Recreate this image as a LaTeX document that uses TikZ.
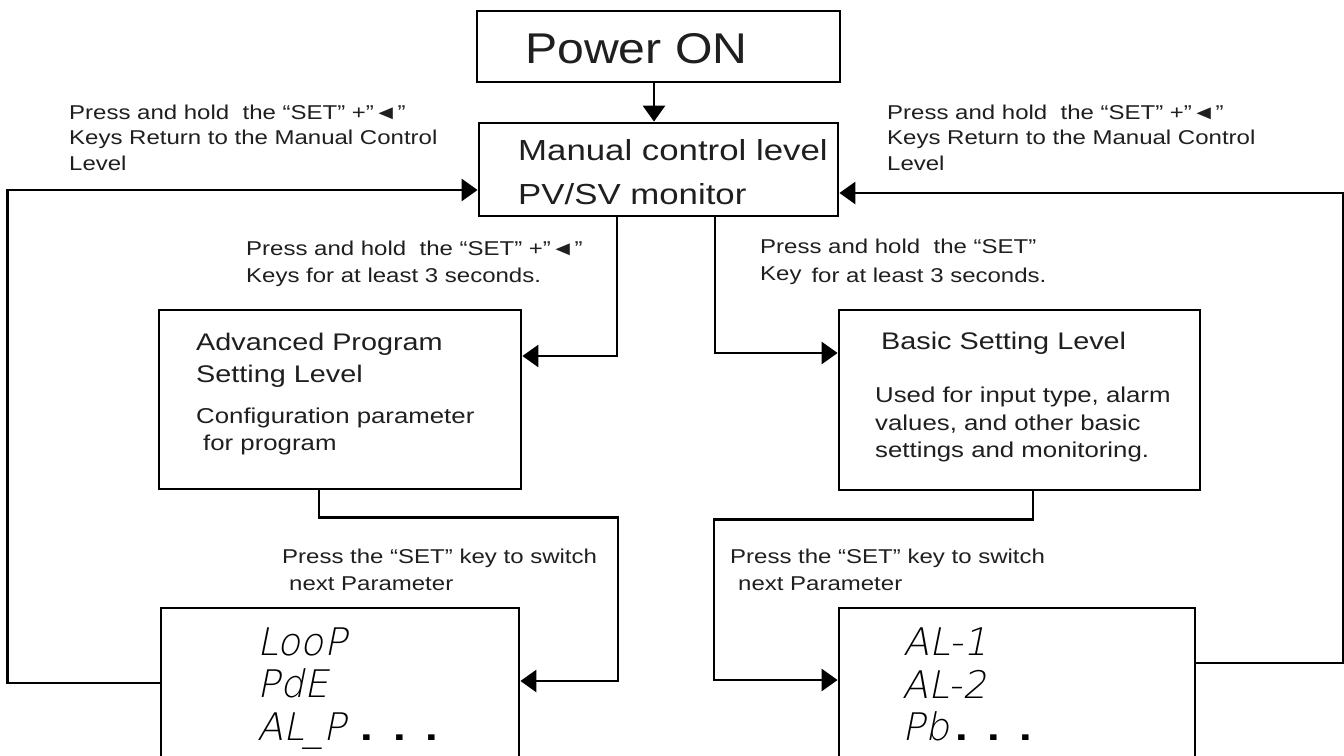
\documentclass[tikz,border=0pt]{standalone}
\usepackage{fontspec}
\setmainfont{Liberation Sans}[FakeStretch=1.2]
\newfontfamily\powerf{Liberation Sans}[FakeStretch=1.12]
\newfontfamily\segf{DejaVu Sans ExtraLight}[FakeSlant=0.2]
\usetikzlibrary{arrows.meta}
\tikzset{
  box/.style={draw, line width=2.8pt, rectangle, inner sep=0pt},
  conn/.style={line width=2.8pt},
  arr/.style={conn, -{Triangle[length=16pt,width=22pt]}},
  txt/.style={anchor=base west, inner sep=0pt, text=black!88},
  small/.style={txt, font=\fontsize{20}{24}\selectfont},
  mid/.style={txt, font=\fontsize{21.5}{26}\selectfont},
  head/.style={txt, font=\fontsize{24}{28}\selectfont},
  seg/.style={txt, font=\segf\fontsize{38}{40}\selectfont, text=black},
  dots/.style={txt, font=\fontsize{38}{40}\selectfont\bfseries, text=black},
}
\newcommand{\dotcell}[1]{\makebox[#1][c]{.}}
\begin{document}
\begin{tikzpicture}[x=1pt,y=-1pt]
\useasboundingbox (0,0) rectangle (1344,755);
\fill[white] (0,0) rectangle (1344,755);
\clip (0,0) rectangle (1344,755);

% boxes
\node[box, minimum width=363pt, minimum height=71pt] (power) at (658.5,46.5) {};
\node[box, minimum width=359pt, minimum height=93pt] (manual) at (658.5,169.5) {};
\node[box, minimum width=362pt, minimum height=179pt] (adv) at (340,399.5) {};
\node[box, minimum width=361pt, minimum height=180pt] (basic) at (1019.5,400) {};
\node[box, minimum width=358pt, minimum height=192pt] (loopbox) at (340,704) {};
\node[box, minimum width=356pt, minimum height=192pt] (albox) at (1017,704) {};

% box texts
\node[txt, font=\powerf\fontsize{43}{46}\selectfont] (powert) at (525,63) {Power ON};
\node[txt, font=\fontsize{29}{34}\selectfont] (man1) at (518,160) {Manual control level};
\node[txt, font=\fontsize{29}{34}\selectfont] (man2) at (518,204) {PV/SV monitor};

\node[head] (adv1) at (196,350) {Advanced Program};
\node[head] (adv2) at (196,382) {Setting Level};
\node[mid] (adv3) at (196,423) {Configuration parameter};
\node[mid] (adv4) at (203,450) {for program};

\node[head] (bas1) at (881,349) {Basic Setting Level};
\node[mid] (bas2) at (875,402) {Used for input type, alarm};
\node[mid] (bas3) at (875,430) {values, and other basic};
\node[mid] (bas4) at (875,457) {settings and monitoring.};

\node[seg] (lp1) at (257,655) {LooP};
\node[seg] (lp2) at (257,697) {PdE};
\node[seg] (lp3) at (257,740) {AL\_P};
\node[dots] (lp3d) at (350.75,740) {\dotcell{32.5pt}\dotcell{32.5pt}\dotcell{32.5pt}};

\node[seg] (al1) at (903,655) {AL-1};
\node[seg] (al2) at (902,698) {AL-2};
\node[seg] (al3) at (902,740) {Pb};
\node[dots] (al3d) at (946,740) {\dotcell{32pt}\dotcell{32pt}\dotcell{32pt}};

% annotation texts
\node[small] (la1) at (69,119) {Press and hold~~the “SET” +”◄”};
\node[small] (la2) at (69,144.5) {Keys Return to the Manual Control};
\node[small] (la3) at (69,170) {Level};

\node[small] (ra1) at (887,119) {Press and hold~~the “SET” +”◄”};
\node[small] (ra2) at (887,144.5) {Keys Return to the Manual Control};
\node[small] (ra3) at (887,170) {Level};

\node[small] (ma1) at (246,255) {Press and hold~~the “SET” +”◄”};
\node[small] (ma2) at (246,282) {Keys for at least 3 seconds.};

\node[small] (mb1) at (760,253) {Press and hold~~the “SET”};
\node[small] (mb2) at (760,282) {\raisebox{2pt}{Key}\hspace{10pt}for at least 3 seconds.};

\node[small] (pa1) at (282,563) {Press the “SET” key to switch};
\node[small] (pa2) at (289,590) {next Parameter};

\node[small] (pb1) at (730,563) {Press the “SET” key to switch};
\node[small] (pb2) at (738,590) {next Parameter};

% connectors
\draw[arr] ([xshift=-4.5pt]power.south) -- ([xshift=-4.5pt]manual.north);
\draw[arr] ([xshift=-41.5pt]manual.south) |- ([yshift=43.5pt]adv.east);
\draw[arr] ([xshift=56.5pt]manual.south) |- ([yshift=47pt]basic.west);
\draw[arr] ([xshift=-21pt]adv.south) -- ++(0,27) -- ++(299,0) |- ([yshift=23pt]loopbox.east);
\draw[arr] ([yshift=21pt]loopbox.west) -- ++(-152,0) |- ([yshift=-20.5pt]manual.west);
\draw[arr] ([xshift=13.5pt]basic.south) -- ++(0,28) -- ++(-319,0) |- ([yshift=24pt]albox.west);
\draw[arr] ([yshift=41pt]albox.east) -- ++(147,0) |- ([yshift=-23.5pt]manual.east);
\end{tikzpicture}
\end{document}
